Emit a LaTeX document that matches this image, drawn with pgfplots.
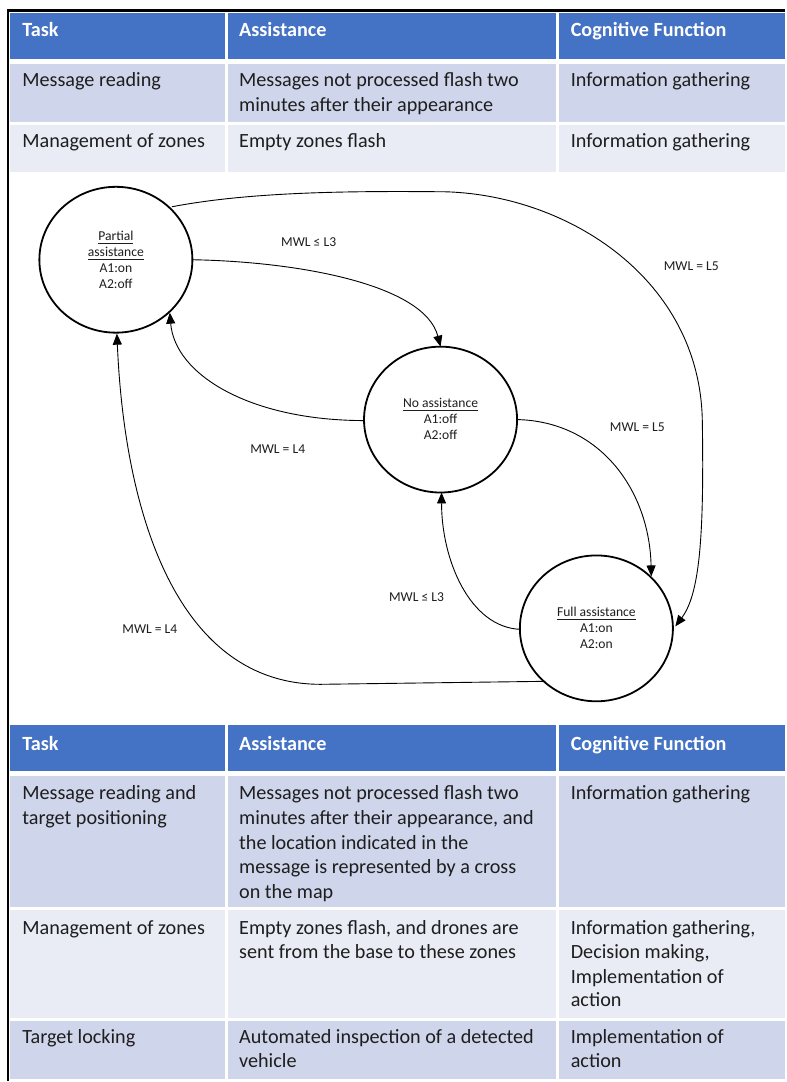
\documentclass[border=0pt]{standalone}
\usepackage{pgfplots}
\pgfplotsset{compat=1.18}
\usepackage{fontspec}
\setmainfont{Carlito}
\usetikzlibrary{arrows.meta}
\definecolor{hdr}{HTML}{4472C4}
\definecolor{rowA}{HTML}{CFD5EA}
\definecolor{rowB}{HTML}{E9EBF5}
\definecolor{txt}{HTML}{1E1E1E}
\newcommand{\tabfont}{\fontsize{10.1}{12}\selectfont}
\newcommand{\dfont}{\fontsize{6.8}{8}\selectfont}
\newcommand{\celltxt}[3]{\node[anchor=base west,inner sep=0,font=\tabfont,text=txt] at (axis cs:#1,#2) {#3};}
\newcommand{\hdrtxt}[3]{\node[anchor=base west,inner sep=0,font=\tabfont\bfseries,text=white] at (axis cs:#1,#2) {#3};}
\newcommand{\dline}[3]{\node[anchor=base,inner sep=0,font=\dfont,text=txt] at (axis cs:#1,#2) {#3};}
\newcommand{\elab}[3]{\node[anchor=center,inner sep=0,font=\dfont,text=txt] at (axis cs:#1,#2) {#3};}
\newcommand{\cellbox}[5]{\fill[#1] (axis cs:#2,#3) rectangle (axis cs:#4,#5);}
\begin{document}
\begin{tikzpicture}
\begin{axis}[
  x=0.5pt, y=0.5pt, y dir=reverse,
  xmin=0, xmax=786, ymin=0, ymax=1082,
  axis lines=none, clip=false, scale only axis,
]
\fill[white] (axis cs:0,0) rectangle (axis cs:786,1082);
% ---------- table 1 ----------
\cellbox{hdr}{10}{13}{225}{59}
\cellbox{hdr}{228}{13}{557}{59}
\cellbox{hdr}{560}{13}{786}{59}
\cellbox{rowA}{10}{64}{225}{122}
\cellbox{rowA}{228}{64}{557}{122}
\cellbox{rowA}{560}{64}{786}{122}
\cellbox{rowB}{10}{125}{225}{172}
\cellbox{rowB}{228}{125}{557}{172}
\cellbox{rowB}{560}{125}{786}{172}
\hdrtxt{22}{37}{Task}
\hdrtxt{239}{37}{Assistance}
\hdrtxt{571}{37}{Cognitive Function}
\celltxt{22}{87}{Message reading}
\celltxt{239}{87}{Messages not processed flash two}
\celltxt{239}{112}{minutes after their appearance}
\celltxt{571}{87}{Information gathering}
\celltxt{22}{148}{Management of zones}
\celltxt{239}{148}{Empty zones flash}
\celltxt{571}{148}{Information gathering}
% ---------- table 2 ----------
\cellbox{hdr}{10}{726}{225}{772}
\cellbox{hdr}{228}{726}{557}{772}
\cellbox{hdr}{560}{726}{786}{772}
\cellbox{rowA}{10}{777}{225}{908}
\cellbox{rowA}{228}{777}{557}{908}
\cellbox{rowA}{560}{777}{786}{908}
\cellbox{rowB}{10}{911}{225}{1019}
\cellbox{rowB}{228}{911}{557}{1019}
\cellbox{rowB}{560}{911}{786}{1019}
\cellbox{rowA}{10}{1022}{225}{1080}
\cellbox{rowA}{228}{1022}{557}{1080}
\cellbox{rowA}{560}{1022}{786}{1080}
\hdrtxt{22}{751}{Task}
\hdrtxt{239}{751}{Assistance}
\hdrtxt{571}{751}{Cognitive Function}
\celltxt{22}{800}{Message reading and}
\celltxt{22}{825}{target positioning}
\celltxt{239}{800}{Messages not processed flash two}
\celltxt{239}{825}{minutes after their appearance, and}
\celltxt{239}{850}{the location indicated in the}
\celltxt{239}{874}{message is represented by a cross}
\celltxt{239}{899}{on the map}
\celltxt{571}{800}{Information gathering}
\celltxt{22}{935}{Management of zones}
\celltxt{239}{935}{Empty zones flash, and drones are}
\celltxt{239}{959}{sent from the base to these zones}
\celltxt{571}{935}{Information gathering,}
\celltxt{571}{959}{Decision making,}
\celltxt{571}{984}{Implementation of}
\celltxt{571}{1008}{action}
\celltxt{22}{1045}{Target locking}
\celltxt{239}{1045}{Automated inspection of a detected}
\celltxt{239}{1069}{vehicle}
\celltxt{571}{1045}{Implementation of}
\celltxt{571}{1069}{action}
% ---------- outer frame ----------
\draw[line width=1.1pt,black] (axis cs:786,10.5) -- (axis cs:8,10.5) -- (axis cs:8,1082);
% ---------- state diagram ----------
\draw[line width=0.9pt] (axis cs:116,260) ellipse [x radius=38.3pt, y radius=36.5pt];
\draw[line width=0.9pt] (axis cs:441,420) ellipse [x radius=38.3pt, y radius=36.5pt];
\draw[line width=0.9pt] (axis cs:597,629) ellipse [x radius=38.3pt, y radius=36.5pt];
\dline{116}{241}{\underline{Partial}}
\dline{116}{257}{\underline{assistance}}
\dline{116}{273}{A1:on}
\dline{116}{289}{A2:off}
\dline{441}{408}{\underline{No assistance}}
\dline{441}{424}{A1:off}
\dline{441}{440}{A2:off}
\dline{597}{617}{\underline{Full assistance}}
\dline{597}{633}{A1:on}
\dline{597}{649}{A2:on}
\begin{scope}[line width=0.45pt, -{Triangle[length=5.5pt,width=4.5pt]}]
% Partial -> Full (MWL = L5)
\draw (axis cs:172,207) .. controls (axis cs:250,192) and (axis cs:350,191) .. (axis cs:447,192)
      .. controls (axis cs:570,196) and (axis cs:700,280) .. (axis cs:703,420)
      .. controls (axis cs:705,540) and (axis cs:700,595) .. (axis cs:676,627);
% Partial -> No (MWL <= L3)
\draw (axis cs:193,260) .. controls (axis cs:300,262) and (axis cs:425,285) .. (axis cs:441,347);
% No -> Partial (MWL = L4)
\draw (axis cs:365,421) .. controls (axis cs:250,421) and (axis cs:175,375) .. (axis cs:170,313);
% No -> Full (MWL = L5)
\draw (axis cs:518,420) .. controls (axis cs:600,422) and (axis cs:650,490) .. (axis cs:652,577);
% Full -> No (MWL <= L3)
\draw (axis cs:521,630) .. controls (axis cs:470,628) and (axis cs:442,560) .. (axis cs:442,493);
% Full -> Partial (MWL = L4)
\draw (axis cs:546,682) -- (axis cs:321,685) .. controls (axis cs:180,685) and (axis cs:125,520) .. (axis cs:117,334);
\end{scope}
\elab{309}{242}{MWL ≤ L3}
\elab{692}{266}{MWL = L5}
\elab{278}{450}{MWL = L4}
\elab{638}{428}{MWL = L5}
\elab{417}{598}{MWL ≤ L3}
\elab{150}{630}{MWL = L4}
\end{axis}
\end{tikzpicture}
\end{document}
